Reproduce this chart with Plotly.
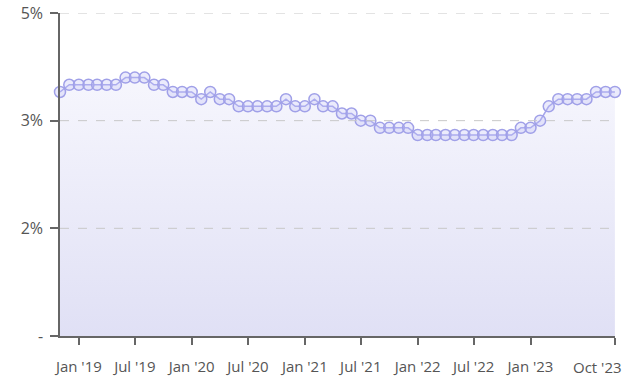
import plotly.graph_objects as go
import pandas as pd

months = pd.date_range("2018-11-01", "2023-10-01", freq="MS").strftime("%Y-%m-%d").tolist()
rates = [3.4,
         3.5, 3.5, 3.5, 3.5, 3.5, 3.5,
         3.6, 3.6, 3.6,
         3.5, 3.5,
         3.4, 3.4, 3.4,
         3.3, 3.4, 3.3, 3.3,
         3.2, 3.2, 3.2, 3.2, 3.2,
         3.3, 3.2, 3.2, 3.3, 3.2, 3.2,
         3.1, 3.1, 3.0, 3.0,
         2.9, 2.9, 2.9, 2.9,
         2.8, 2.8, 2.8, 2.8, 2.8, 2.8, 2.8, 2.8, 2.8, 2.8, 2.8,
         2.9, 2.9, 3.0, 3.2,
         3.3, 3.3, 3.3, 3.3,
         3.4, 3.4, 3.4]

x_tick_vals = ["2019-01-01", "2019-07-01", "2020-01-01", "2020-07-01", "2021-01-01",
               "2021-07-01", "2022-01-01", "2022-07-01", "2023-01-01", "2023-10-01"]
x_tick_text = ["Jan '19", "Jul '19", "Jan '20", "Jul '20", "Jan '21",
               "Jul '21", "Jan '22", "Jul '22", "Jan '23", "Oct '23"]
y_tick_vals = [0, 1.5, 3.0, 4.5]
y_tick_text = ["-", "2%", "3%", "5%"]

fig = go.Figure()
fig.add_trace(go.Scatter(
    x=months, y=rates, mode="lines+markers",
    fill="tozeroy",
    fillgradient=dict(type="vertical",
                      colorscale=[[0, "rgb(224,224,245)"], [1, "rgb(246,246,253)"]]),
    line=dict(color="rgb(165,165,235)", width=1.5),
    marker=dict(symbol="circle", size=11,
                color="rgba(190,190,245,0.3)",
                line=dict(color="rgb(160,160,232)", width=1.5)),
    hoverinfo="x+y",
    cliponaxis=False,
))

# dashed grid lines drawn above the filled area
for v in y_tick_vals[1:]:
    fig.add_shape(type="line", xref="paper", yref="y", x0=0, x1=1, y0=v, y1=v,
                  line=dict(color="#c8c8c8", width=1, dash="dash"), layer="above")

# last tick label is drawn right-aligned so it stays inside the figure
shown_text = x_tick_text[:-1] + [""]
fig.add_annotation(x=x_tick_vals[-1], xref="x", y=0, yref="paper",
                   text=x_tick_text[-1], showarrow=False,
                   xanchor="right", yanchor="top", xshift=9, yshift=-19,
                   font=dict(size=15, color="#555555"))

fig.update_layout(
    width=634, height=380,
    margin=dict(l=60, r=19, t=13, b=44),
    paper_bgcolor="white", plot_bgcolor="white",
    showlegend=False,
    font=dict(family="Open Sans, Noto Sans, sans-serif", size=15, color="#555555"),
)
fig.update_xaxes(
    range=["2018-11-01", "2023-10-01 08:00"],
    tickvals=x_tick_vals, ticktext=shown_text,
    showgrid=False, showline=True, linecolor="#666666", linewidth=1.5,
    ticks="outside", ticklen=7, tickcolor="#666666", tickwidth=1.5,
    ticklabelstandoff=9,
    tickfont=dict(size=15, color="#555555"),
    zeroline=False, automargin=False,
)
fig.update_yaxes(
    range=[0, 4.5],
    tickvals=y_tick_vals, ticktext=y_tick_text,
    showgrid=False,
    showline=True, linecolor="#666666", linewidth=1.5,
    ticks="outside", ticklen=8, tickcolor="#666666", tickwidth=1.5,
    ticklabelstandoff=4,
    tickfont=dict(size=16, color="#555555"),
    zeroline=False, automargin=False,
)

fig.write_html("out.html", config={"displayModeBar": False},
               post_script="document.body.style.margin='0';document.body.style.padding='0';")
